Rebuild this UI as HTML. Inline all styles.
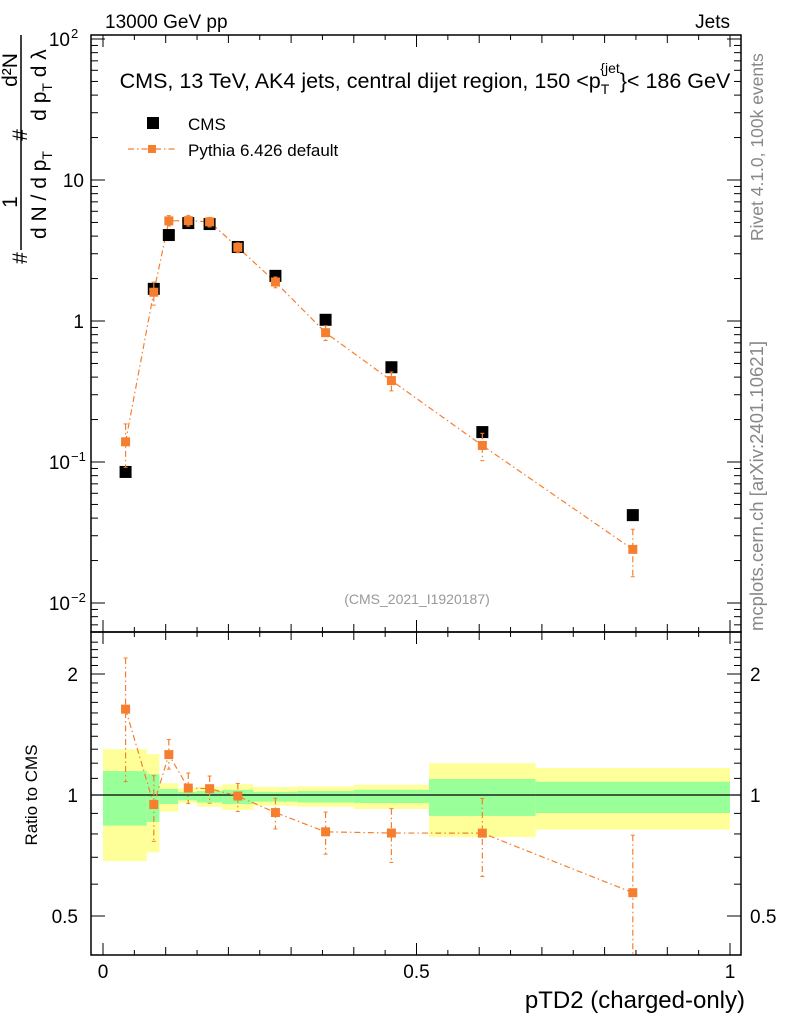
<!DOCTYPE html>
<html><head><meta charset="utf-8"><style>
body{margin:0;background:#fff}
svg{font-family:"Liberation Sans",sans-serif}
</style></head><body>
<svg id="c" width="786" height="1024" viewBox="0 0 786 1024" xmlns="http://www.w3.org/2000/svg">
<g id="bands"></g>
<g id="axes"></g>
<g id="series"></g>
<text x="105" y="28" font-size="19">13000 GeV pp</text>
<text x="730" y="28" font-size="19" text-anchor="end">Jets</text>
<text x="425" y="88" font-size="21.5" text-anchor="middle">CMS, 13 TeV, AK4 jets, central dijet region, 150 &lt;p<tspan font-size="14" dy="6">T</tspan><tspan font-size="14" dy="-21" dx="-9">{jet</tspan><tspan dy="15">}&lt; 186 GeV</tspan></text>
<g>
<rect x="147" y="117" width="12" height="12" fill="#000"/>
<text x="188" y="130" font-size="17">CMS</text>
<line x1="128" y1="149" x2="175" y2="149" stroke="#f57f2f" stroke-width="1.2" stroke-dasharray="6,3,1.5,3"/>
<rect x="148" y="145" width="8" height="8" fill="#f57f2f"/>
<text x="188" y="156" font-size="17">Pythia 6.426 default</text>
</g>
<text x="417" y="604" font-size="14" fill="#999" text-anchor="middle">(CMS_2021_I1920187)</text>
<text transform="translate(763,241) rotate(-90)" font-size="17.5" fill="#888">Rivet 4.1.0, 100k events</text>
<text transform="translate(763,631) rotate(-90)" font-size="18.5" fill="#888">mcplots.cern.ch [arXiv:2401.10621]</text>
<g font-size="21" text-anchor="middle">
<line x1="21" y1="35" x2="21" y2="250" stroke="#000" stroke-width="1.5"/>
<text transform="translate(17,70) rotate(-90)">d²N</text>
<text transform="translate(27,135) rotate(-90)">#</text>
<text transform="translate(17,202) rotate(-90)">1</text>
<text transform="translate(46,85) rotate(-90)">d p<tspan font-size="14" dy="6">T</tspan><tspan dy="-6"> d λ</tspan></text>
<text transform="translate(46,195) rotate(-90)">d N / d p<tspan font-size="14" dy="6">T</tspan></text>
<text transform="translate(27,258) rotate(-90)">#</text>
</g>
<text transform="translate(37,795) rotate(-90)" font-size="17" text-anchor="middle">Ratio to CMS</text>
<text x="745" y="1008" font-size="24" text-anchor="end">pTD2 (charged-only)</text>
</svg>
<script>
const binEdges=[0,0.07,0.09,0.12,0.15,0.19,0.24,0.31,0.40,0.52,0.69,1.0];
const xVals=[0.036,0.081,0.105,0.136,0.17,0.215,0.275,0.355,0.46,0.605,0.845];
const cmsVals=[0.085,1.69,4.07,4.95,4.87,3.35,2.09,1.02,0.47,0.163,0.042];
const pythiaVals=[0.139,1.6,5.13,5.15,5.05,3.33,1.89,0.826,0.378,0.131,0.024];
const pythiaErrUpFrac=[0.34,0.18,0.09,0.09,0.075,0.075,0.085,0.12,0.15,0.22,0.39];
const pythiaErrDnFrac=[0.34,0.19,0.08,0.085,0.08,0.085,0.09,0.12,0.155,0.22,0.36];
const bandYelUp=[1.30,1.265,1.07,1.04,1.048,1.063,1.047,1.05,1.06,1.20,1.167];
const bandGrnUp=[1.147,1.127,1.035,1.018,1.023,1.03,1.018,1.023,1.03,1.096,1.079];
const bandGrnDn=[0.839,0.857,0.95,0.97,0.958,0.95,0.963,0.958,0.955,0.887,0.902];
const bandYelDn=[0.685,0.72,0.91,0.955,0.935,0.918,0.94,0.935,0.923,0.786,0.82];
const xTickLabels=["0","0.5","1"];
const xTickVals=[0,0.5,1];
const mainTickVals=[100,10,1,0.1,0.01];
const mainTickLabels=[["10","2"],["10",""],["1",""],["10","−1"],["10","−2"]];
const ratioTickVals=[2,1,0.5];
const ratioTickLabels=["2","1","0.5"];

const NS="http://www.w3.org/2000/svg";
const L=91,R=741,T=35,M=632,B=955;
const X=v=>103+627*v;
const Y=v=>180-141*(Math.log10(v)-1);
const YR=r=>795-121*Math.log2(r);
const ORG="#f57f2f";
function mk(parent,tag,attrs){const e=document.createElementNS(NS,tag);for(const k in attrs)e.setAttribute(k,attrs[k]);document.getElementById(parent).appendChild(e);return e;}

for(let i=0;i<xVals.length;i++){
  const x0=X(binEdges[i]),x1=X(binEdges[i+1]);
  let e=mk('bands','rect',{x:x0,y:YR(bandYelUp[i]),width:x1-x0,height:YR(bandYelDn[i])-YR(bandYelUp[i]),fill:'#ffff99'});
  
  
  e=mk('bands','rect',{x:x0,y:YR(bandGrnUp[i]),width:x1-x0,height:YR(bandGrnDn[i])-YR(bandGrnUp[i]),fill:'#99ff99'});
  
  
}
let f=mk('axes','rect',{x:L,y:T,width:R-L,height:M-T,fill:'none',stroke:'#000','stroke-width':1.5});


f=mk('axes','rect',{x:L,y:M,width:R-L,height:B-M,fill:'none',stroke:'#000','stroke-width':1.5});


let u=mk('axes','line',{x1:L,x2:R,y1:YR(1),y2:YR(1),stroke:'#000','stroke-width':1.2});


for(let k=0;k<=20;k++){
  const v=k*0.05,x=X(v),len=(k%10==0)?12:(k%2==0?8:5);
  [[T,1],[M,1],[M,-1],[B,-1]].forEach(([y0,d])=>{mk('axes','line',{x1:x,x2:x,y1:y0,y2:y0+d*len,stroke:'#000','stroke-width':1});});
}
xTickVals.forEach((v,i)=>{const t=mk('axes','text',{x:X(v),y:978,'font-size':19,'text-anchor':'middle'});t.textContent=xTickLabels[i];

});
for(let d=-3;d<=2;d++){for(let m=1;m<=9;m++){const v=m*Math.pow(10,d),y=Y(v);if(y<T||y>M)continue;const len=m==1?14:7;
mk('axes','line',{x1:L,x2:L+len,y1:y,y2:y,stroke:'#000'});mk('axes','line',{x1:R,x2:R-len,y1:y,y2:y,stroke:'#000'});}}
mainTickVals.forEach((v,i)=>{const t=mk('axes','text',{x:mainTickLabels[i][1]?70:84,y:Y(v)+7,'font-size':19,'text-anchor':'end'});
t.textContent=mainTickLabels[i][0];


if(mainTickLabels[i][1]){const s=mk('axes','text',{x:71,y:Y(v)-1,'font-size':13});s.textContent=mainTickLabels[i][1];}});
for(let r=0.4;r<=2.5;r+=0.1){const y=YR(r);if(y<M||y>B)continue;const maj=[0.5,1,2].some(q=>Math.abs(q-r)<1e-6);const len=maj?14:7;
mk('axes','line',{x1:L,x2:L+len,y1:y,y2:y,stroke:'#000'});mk('axes','line',{x1:R,x2:R-len,y1:y,y2:y,stroke:'#000'});}
ratioTickVals.forEach((v,i)=>{let t=mk('axes','text',{x:78,y:YR(v)+7,'font-size':19,'text-anchor':'end'});t.textContent=ratioTickLabels[i];


t=mk('axes','text',{x:750,y:YR(v)+7,'font-size':19});t.textContent=ratioTickLabels[i];

});

const dash='6,3,1.5,3';
let pm=xVals.map((x,i)=>X(x)+','+Y(pythiaVals[i])).join(' ');
let pl=mk('series','polyline',{points:pm,fill:'none',stroke:ORG,'stroke-width':1.2,'stroke-dasharray':dash});


const ratios=xVals.map((x,i)=>pythiaVals[i]/cmsVals[i]);
let rl=mk('series','polyline',{points:xVals.map((x,i)=>X(x)+','+YR(ratios[i])).join(' '),fill:'none',stroke:ORG,'stroke-width':1.2,'stroke-dasharray':dash});


xVals.forEach((xv,i)=>{
  const x=X(xv);
  let c=mk('series','rect',{x:x-6,y:Y(cmsVals[i])-6,width:12,height:12,fill:'#000'});
  
  
  const up=pythiaVals[i]*(1+pythiaErrUpFrac[i]),dn=pythiaVals[i]*(1-pythiaErrDnFrac[i]);
  mk('series','line',{x1:x,x2:x,y1:Y(up),y2:Y(dn),stroke:ORG,'stroke-width':1.2,'stroke-dasharray':dash});
  mk('series','line',{x1:x-2,x2:x+2,y1:Y(up),y2:Y(up),stroke:ORG});
  mk('series','line',{x1:x-2,x2:x+2,y1:Y(dn),y2:Y(dn),stroke:ORG});
  let p=mk('series','rect',{x:x-4.5,y:Y(pythiaVals[i])-4.5,width:9,height:9,fill:ORG});
  
  
  const r=ratios[i],ru=r*(1+pythiaErrUpFrac[i]),rd=r*(1-pythiaErrDnFrac[i]);
  const yu=YR(ru),yd=Math.min(YR(rd),B);
  mk('series','line',{x1:x,x2:x,y1:yu,y2:yd,stroke:ORG,'stroke-width':1.2,'stroke-dasharray':dash});
  mk('series','line',{x1:x-2,x2:x+2,y1:yu,y2:yu,stroke:ORG});
  if(YR(rd)<B)mk('series','line',{x1:x-2,x2:x+2,y1:yd,y2:yd,stroke:ORG});
  let q=mk('series','rect',{x:x-4.5,y:YR(r)-4.5,width:9,height:9,fill:ORG});
  
  
});
</script>
</body></html>
